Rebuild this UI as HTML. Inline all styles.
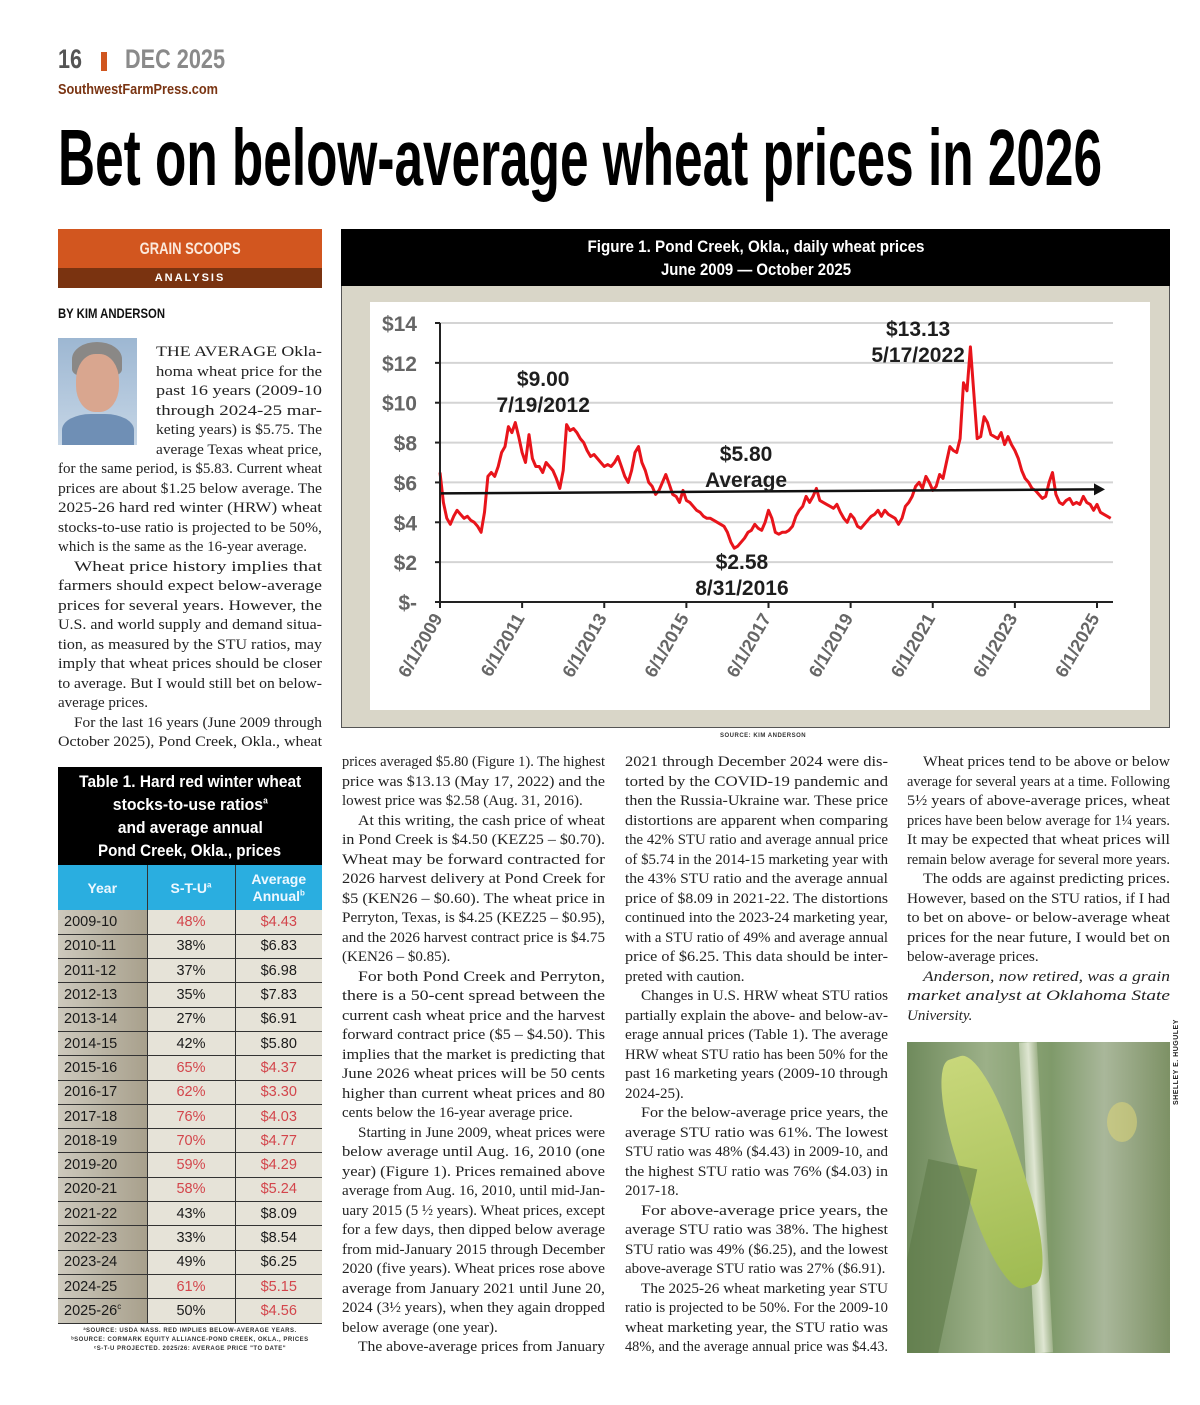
<!DOCTYPE html>
<html><head><meta charset="utf-8">
<style>
*{margin:0;padding:0;box-sizing:border-box}
body{width:1200px;height:1405px;background:#fff;position:relative;overflow:hidden;font-family:"Liberation Serif",serif;color:#222}
.a{position:absolute}
.fit{white-space:nowrap;display:inline-block;transform-origin:0 50%}
.col{position:absolute;font-size:15px;line-height:19.5px}
.col div{height:19.5px;white-space:nowrap;overflow:visible}
.col div span{display:inline-block;white-space:nowrap;transform-origin:0 50%}
.col div.i span{margin-left:16px}
.cond{font-family:"Liberation Sans",sans-serif;font-weight:bold}
table{border-collapse:collapse}
sup{line-height:0}
</style></head><body>

<div class="a cond" style="left:58px;top:44px;font-size:27px;color:#555;"><span class="fit" data-w="24">16</span></div>
<div class="a" style="left:101px;top:52px;width:6px;height:19px;background:#d0561f"></div>
<div class="a cond" style="left:125px;top:44px;font-size:27px;color:#8a8a8a;"><span class="fit" data-w="100">DEC 2025</span></div>
<div class="a cond" style="left:58px;top:81px;font-size:15px;color:#7a3412;"><span class="fit" data-w="160">SouthwestFarmPress.com</span></div>

<h1 class="a cond" style="left:58px;top:118px;font-size:80px;line-height:80px;color:#000;"><span class="fit" data-w="1044">Bet on below-average wheat prices in 2026</span></h1>

<div class="a" style="left:58px;top:229px;width:264px;height:39px;background:#d2561f;color:#fbe9dc;text-align:center;">
 <div class="cond" style="font-size:17px;line-height:39px;"><span class="fit" data-w="101">GRAIN SCOOPS</span></div></div>
<div class="a cond" style="left:58px;top:268px;width:264px;height:20px;background:#7a3310;color:#fff;text-align:center;font-size:11px;line-height:20px;letter-spacing:2px">ANALYSIS</div>
<div class="a cond" style="left:58px;top:305px;font-size:14px;color:#111"><span class="fit" data-w="107">BY KIM ANDERSON</span></div>

<div class="a" style="left:58px;top:338px;width:79px;height:107px;background:linear-gradient(#9db7d2,#c6d6e6);overflow:hidden">
 <div class="a" style="left:14px;top:4px;width:50px;height:34px;border-radius:50% 50% 20% 20%;background:#8a8886"></div>
 <div class="a" style="left:18px;top:16px;width:43px;height:58px;border-radius:45%;background:#d9a68f"></div>
 <div class="a" style="left:4px;top:76px;width:72px;height:40px;border-radius:40% 40% 0 0;background:#6f8fb5"></div>
</div>

<!-- column 1 -->
<div class="col" style="left:156px;top:343px;width:166px">
<div><span>THE AVERAGE Okla-</span></div>
<div><span>homa wheat price for the</span></div>
<div><span>past 16 years (2009-10</span></div>
<div><span>through 2024-25 mar-</span></div>
<div><span>keting years) is $5.75. The</span></div>
<div><span>average Texas wheat price,</span></div>
</div>
<div class="col" style="left:58px;top:460px;width:264px">
<div><span>for the same period, is $5.83. Current wheat</span></div>
<div><span>prices are about $1.25 below average. The</span></div>
<div><span>2025-26 hard red winter (HRW) wheat</span></div>
<div><span>stocks-to-use ratio is projected to be 50%,</span></div>
<div class="e"><span>which is the same as the 16-year average.</span></div>
<div class="i"><span>Wheat price history implies that</span></div>
<div><span>farmers should expect below-average</span></div>
<div><span>prices for several years. However, the</span></div>
<div><span>U.S. and world supply and demand situa-</span></div>
<div><span>tion, as measured by the STU ratios, may</span></div>
<div><span>imply that wheat prices should be closer</span></div>
<div><span>to average. But I would still bet on below-</span></div>
<div class="e"><span>average prices.</span></div>
<div class="i"><span>For the last 16 years (June 2009 through</span></div>
<div><span>October 2025), Pond Creek, Okla., wheat</span></div>
</div>

<div class="col" style="left:342px;top:753px;width:263px">
<div><span>prices averaged $5.80 (Figure 1). The highest</span></div>
<div><span>price was $13.13 (May 17, 2022) and the</span></div>
<div class="e"><span>lowest price was $2.58 (Aug. 31, 2016).</span></div>
<div class="i"><span>At this writing, the cash price of wheat</span></div>
<div><span>in Pond Creek is $4.50 (KEZ25 – $0.70).</span></div>
<div><span>Wheat may be forward contracted for</span></div>
<div><span>2026 harvest delivery at Pond Creek for</span></div>
<div><span>$5 (KEN26 – $0.60). The wheat price in</span></div>
<div><span>Perryton, Texas, is $4.25 (KEZ25 – $0.95),</span></div>
<div><span>and the 2026 harvest contract price is $4.75</span></div>
<div class="e"><span>(KEN26 – $0.85).</span></div>
<div class="i"><span>For both Pond Creek and Perryton,</span></div>
<div><span>there is a 50-cent spread between the</span></div>
<div><span>current cash wheat price and the harvest</span></div>
<div><span>forward contract price ($5 – $4.50). This</span></div>
<div><span>implies that the market is predicting that</span></div>
<div><span>June 2026 wheat prices will be 50 cents</span></div>
<div><span>higher than current wheat prices and 80</span></div>
<div class="e"><span>cents below the 16-year average price.</span></div>
<div class="i"><span>Starting in June 2009, wheat prices were</span></div>
<div><span>below average until Aug. 16, 2010 (one</span></div>
<div><span>year) (Figure 1). Prices remained above</span></div>
<div><span>average from Aug. 16, 2010, until mid-Jan-</span></div>
<div><span>uary 2015 (5 ½ years). Wheat prices, except</span></div>
<div><span>for a few days, then dipped below average</span></div>
<div><span>from mid-January 2015 through December</span></div>
<div><span>2020 (five years). Wheat prices rose above</span></div>
<div><span>average from January 2021 until June 20,</span></div>
<div><span>2024 (3½ years), when they again dropped</span></div>
<div class="e"><span>below average (one year).</span></div>
<div class="i"><span>The above-average prices from January</span></div>
</div>

<div class="col" style="left:625px;top:753px;width:263px">
<div><span>2021 through December 2024 were dis-</span></div>
<div><span>torted by the COVID-19 pandemic and</span></div>
<div><span>then the Russia-Ukraine war. These price</span></div>
<div><span>distortions are apparent when comparing</span></div>
<div><span>the 42% STU ratio and average annual price</span></div>
<div><span>of $5.74 in the 2014-15 marketing year with</span></div>
<div><span>the 43% STU ratio and the average annual</span></div>
<div><span>price of $8.09 in 2021-22. The distortions</span></div>
<div><span>continued into the 2023-24 marketing year,</span></div>
<div><span>with a STU ratio of 49% and average annual</span></div>
<div><span>price of $6.25. This data should be inter-</span></div>
<div class="e"><span>preted with caution.</span></div>
<div class="i"><span>Changes in U.S. HRW wheat STU ratios</span></div>
<div><span>partially explain the above- and below-av-</span></div>
<div><span>erage annual prices (Table 1). The average</span></div>
<div><span>HRW wheat STU ratio has been 50% for the</span></div>
<div><span>past 16 marketing years (2009-10 through</span></div>
<div class="e"><span>2024-25).</span></div>
<div class="i"><span>For the below-average price years, the</span></div>
<div><span>average STU ratio was 61%. The lowest</span></div>
<div><span>STU ratio was 48% ($4.43) in 2009-10, and</span></div>
<div><span>the highest STU ratio was 76% ($4.03) in</span></div>
<div class="e"><span>2017-18.</span></div>
<div class="i"><span>For above-average price years, the</span></div>
<div><span>average STU ratio was 38%. The highest</span></div>
<div><span>STU ratio was 49% ($6.25), and the lowest</span></div>
<div class="e"><span>above-average STU ratio was 27% ($6.91).</span></div>
<div class="i"><span>The 2025-26 wheat marketing year STU</span></div>
<div><span>ratio is projected to be 50%. For the 2009-10</span></div>
<div><span>wheat marketing year, the STU ratio was</span></div>
<div class="e"><span>48%, and the average annual price was $4.43.</span></div>
</div>

<div class="col" style="left:907px;top:753px;width:263px">
<div class="i"><span>Wheat prices tend to be above or below</span></div>
<div><span>average for several years at a time. Following</span></div>
<div><span>5½ years of above-average prices, wheat</span></div>
<div><span>prices have been below average for 1¼ years.</span></div>
<div><span>It may be expected that wheat prices will</span></div>
<div class="e"><span>remain below average for several more years.</span></div>
<div class="i"><span>The odds are against predicting prices.</span></div>
<div><span>However, based on the STU ratios, if I had</span></div>
<div><span>to bet on above- or below-average wheat</span></div>
<div><span>prices for the near future, I would bet on</span></div>
<div class="e"><span>below-average prices.</span></div>
<div class="i" style="font-style:italic"><span>Anderson, now retired, was a grain</span></div>
<div style="font-style:italic"><span>market analyst at Oklahoma State</span></div>
<div class="e" style="font-style:italic"><span>University.</span></div>
</div>

<div class="a" style="left:907px;top:1042px;width:263px;height:311px;overflow:hidden;background:linear-gradient(90deg,#6f8a5c 0%,#9cb088 30%,#7f9a6a 55%,#a9b79a 75%,#7d9165 100%)">
 <div class="a" style="left:120px;top:0;width:18px;height:311px;background:linear-gradient(90deg,#b9c9a8,#dfe6d2,#9fb28a);transform:rotate(-3deg)"></div>
 <div class="a" style="left:55px;top:10px;width:60px;height:240px;border-radius:40%;background:linear-gradient(#c8d77a,#9fbb52);transform:rotate(-18deg)"></div>
 <div class="a" style="left:0;top:120px;width:50px;height:200px;background:#5d7a48;opacity:.6;transform:rotate(12deg)"></div>
 <div class="a" style="left:200px;top:60px;width:30px;height:40px;border-radius:50%;background:#d8d27a;opacity:.6"></div>
</div>
<div class="a cond" style="left:1173px;top:1105px;font-size:7px;white-space:nowrap;transform:rotate(-90deg);transform-origin:0 0;color:#222;letter-spacing:.5px">SHELLEY E. HUGULEY</div>

<!-- Table -->
<div class="a" style="left:58px;top:767px;width:264px">
 <div class="cond" style="background:#000;color:#fff;text-align:center;height:98px;font-size:17px;line-height:23px;padding-top:3px">
  <div style="height:23px"><span class="fit" data-w="222">Table 1. Hard red winter wheat</span></div>
  <div style="height:23px"><span class="fit" data-w="155">stocks-to-use ratios<sup style="font-size:9px">a</sup></span></div>
  <div style="height:23px"><span class="fit" data-w="145">and average annual</span></div>
  <div style="height:23px"><span class="fit" data-w="183">Pond Creek, Okla., prices</span></div>
 </div>
 <table style="width:264px;font-family:'Liberation Sans',sans-serif;font-size:14.5px">
  <tr style="background:#2aaee0;color:#eef8ff;height:45px;font-weight:bold;font-size:14px">
   <td style="width:89px;text-align:center;border-right:1px solid #333">Year</td>
   <td style="width:88px;text-align:center;border-right:1px solid #333">S-T-U<sup style="font-size:8px">a</sup></td>
   <td style="text-align:center;line-height:17px">Average<br>Annual<sup style="font-size:8px">b</sup></td></tr>
 </table>
 <table id="tbody" style="width:264px;font-family:'Liberation Sans',sans-serif;font-size:14.5px;color:#1a1a1a"></table>
 <div class="cond" style="text-align:center;font-size:6px;line-height:9px;color:#333;margin-top:3px;letter-spacing:.5px">
  <div>ªSOURCE: USDA NASS. RED IMPLIES BELOW-AVERAGE YEARS.</div>
  <div>ᵇSOURCE: CORMARK EQUITY ALLIANCE-POND CREEK, OKLA., PRICES</div>
  <div>ᶜS-T-U PROJECTED. 2025/26: AVERAGE PRICE "TO DATE"</div>
 </div>
</div>

<!-- Chart -->
<svg class="a" style="left:341px;top:229px" width="829" height="499" viewBox="341 229 829 499" id="chart">
 <rect x="341.5" y="229.5" width="828" height="498" fill="#d9d6c8" stroke="#555"/>
 <rect x="341" y="229" width="829" height="57" fill="#000"/>
 <text x="756" y="252" text-anchor="middle" fill="#fff" font-family="Liberation Sans" font-weight="bold" font-size="17" textLength="337" lengthAdjust="spacingAndGlyphs">Figure 1. Pond Creek, Okla., daily wheat prices</text>
 <text x="756" y="275" text-anchor="middle" fill="#fff" font-family="Liberation Sans" font-weight="bold" font-size="17" textLength="190" lengthAdjust="spacingAndGlyphs">June 2009 — October 2025</text>
 <rect x="370" y="302" width="780" height="408" fill="#fff"/>
 <g id="grid"></g><g id="series"></g><g id="axes"></g><g id="notes"></g>
</svg>
<div class="a cond" style="left:720px;top:733px;font-size:6px;letter-spacing:.5px;color:#333">SOURCE: KIM ANDERSON</div>

<script>
// ---- table data
const tblYears=["2009-10","2010-11","2011-12","2012-13","2013-14","2014-15","2015-16","2016-17","2017-18","2018-19","2019-20","2020-21","2021-22","2022-23","2023-24","2024-25","2025-26"];
const tblStu=[48,38,37,35,27,42,65,62,76,70,59,58,43,33,49,61,50];
const tblPrice=[4.43,6.83,6.98,7.83,6.91,5.80,4.37,3.30,4.03,4.77,4.29,5.24,8.09,8.54,6.25,5.15,4.56];
const tblRedStu=[1,0,0,0,0,0,1,1,1,1,1,1,0,0,0,1,0];
const tblRedPrice=[1,0,0,0,0,0,1,1,1,1,1,1,0,0,0,1,1];

// ---- chart data (monthly, starting June 2009)
const priceStart=2009+5/12;
const prices=[
6.5,5.0,4.2,3.9,4.3,4.6,4.4,4.2,4.3,4.1,4.0,3.8,
3.5,4.5,6.3,6.5,6.3,6.8,7.5,7.8,8.8,8.5,9.0,8.3,
7.5,7.0,8.4,7.2,6.8,6.8,6.5,7.0,6.8,6.6,6.2,5.7,
6.6,8.9,8.6,8.7,8.5,8.2,8.0,7.6,7.3,7.4,7.2,7.0,
6.8,6.9,6.8,7.0,7.3,6.8,6.3,6.0,6.6,7.5,7.8,7.0,
6.6,6.0,5.8,5.4,5.6,6.0,6.4,5.9,5.4,5.3,5.0,5.6,
5.1,5.0,4.8,4.6,4.5,4.3,4.2,4.2,4.1,4.0,3.9,3.8,
3.5,3.0,2.7,2.8,3.0,3.2,3.5,3.6,3.9,3.7,3.6,4.0,
4.6,4.2,3.5,3.4,3.5,3.5,3.6,3.8,4.3,4.6,4.8,5.3,
5.0,5.3,5.7,5.1,5.0,4.9,4.8,4.7,4.9,4.5,4.2,4.0,
4.4,4.2,3.8,3.7,3.9,4.1,4.3,4.4,4.6,4.3,4.6,4.4,
4.3,4.2,3.9,4.2,4.8,5.0,5.3,5.8,6.0,5.7,6.3,6.0,
5.6,5.8,6.4,6.2,7.0,7.8,7.6,7.5,8.2,11.0,10.6,12.8,
10.5,8.2,8.3,9.3,9.0,8.4,8.3,8.2,8.5,7.9,8.3,7.9,
7.6,7.2,6.6,6.2,6.0,5.7,5.6,5.4,5.2,5.3,6.0,6.5,
5.4,5.0,4.9,5.1,5.2,4.9,5.0,4.9,5.3,5.0,4.9,4.6,
4.9,4.5,4.4,4.3,4.2];
const yTicks=[0,2,4,6,8,10,12,14];
const yTickLabels=["$-","$2","$4","$6","$8","$10","$12","$14"];
const xTickYears=[2009,2011,2013,2015,2017,2019,2021,2023,2025];
const avgLine=[5.45,5.65];
const notes=[["$9.00","7/19/2012",2011.93,10.85],["$13.13","5/17/2022",2021.06,13.35],["$5.80","Average",2016.87,7.08],["$2.58","8/31/2016",2016.77,1.66]];

const NS="http://www.w3.org/2000/svg";
const X0=440,X1=1097,Y0=602,Y1=323;
function xs(t){return X0+(t-priceStart)*(X1-X0)/16;}
function ys(v){return Y0-v*(Y0-Y1)/14;}
function mk(tag,at,parent){const e=document.createElementNS(NS,tag);for(const k in at)e.setAttribute(k,at[k]);parent.appendChild(e);return e;}

const grid=document.getElementById('grid'),axes=document.getElementById('axes'),ser=document.getElementById('series'),nt=document.getElementById('notes');
yTicks.forEach((v,i)=>{
 if(v>0){const g=mk('line',{x1:X0,x2:1113,y1:ys(v),y2:ys(v),stroke:'#d4d4d4','stroke-width':2},grid);
 
 }
 mk('line',{x1:X0-5,x2:X0,y1:ys(v),y2:ys(v),stroke:'#222','stroke-width':2},axes);
 const t=mk('text',{x:417,y:ys(v)+8,'text-anchor':'end','font-family':'Liberation Sans','font-weight':'bold','font-size':21,fill:'#666'},axes);
 t.textContent=yTickLabels[i];
 
 
});
mk('line',{x1:X0,x2:X0,y1:Y1,y2:Y0,stroke:'#222','stroke-width':2},axes);
mk('line',{x1:X0,x2:1113,y1:Y0,y2:Y0,stroke:'#222','stroke-width':2},axes);
xTickYears.forEach(yr=>{
 const x=xs(yr+5/12);
 mk('line',{x1:x,x2:x,y1:Y0,y2:Y0+6,stroke:'#222','stroke-width':2},axes);
 const t=mk('text',{x:x+3,y:Y0+16,'text-anchor':'end','font-family':'Liberation Sans','font-weight':'bold','font-size':18,fill:'#666',transform:`rotate(-60 ${x+3} ${Y0+16})`},axes);
 t.textContent='6/1/'+yr;
 
 
});
let d='';
prices.forEach((v,i)=>{d+=(i?'L':'M')+xs(priceStart+i/12).toFixed(1)+' '+ys(v).toFixed(1);});
const p=mk('path',{d:d,fill:'none',stroke:'#e8141b','stroke-width':3,'stroke-linejoin':'round'},ser);


const ax2=1105;
const al=mk('line',{x1:X0,y1:ys(avgLine[0]),x2:ax2-8,y2:ys(avgLine[1]),stroke:'#111','stroke-width':2.5},ser);


mk('path',{d:`M${ax2} ${ys(avgLine[1])} l-11 -6 l0 12 z`,fill:'#111'},ser);
notes.forEach(n=>{
 const x=xs(n[2]),y=ys(n[3]);
 [n[0],n[1]].forEach((s,k)=>{
  const t=mk('text',{x:x,y:y+k*26,'text-anchor':'middle','font-family':'Liberation Sans','font-weight':'bold','font-size':21,fill:'#1e1e1e'},nt);
  t.textContent=s;
  
  
 });
});

// table body
const tb=document.getElementById('tbody');
tblYears.forEach((yr,i)=>{
 const tr=document.createElement('tr');
 
 
 tr.style.height='24.3px';
 tr.innerHTML=`<td style="width:89px;padding-left:6px;background:linear-gradient(90deg,#cdc9bd,#a8a08c);border-right:1px solid #333;border-bottom:1px solid #333">${yr}${i==16?'<sup style="font-size:8px">c</sup>':''}</td><td style="width:88px;text-align:center;background:#e6e3d8;border-right:1px solid #333;border-bottom:1px solid #333;color:${tblRedStu[i]?'#d3454b':'#1a1a1a'}">${tblStu[i]}%</td><td style="text-align:center;background:#e6e3d8;border-bottom:1px solid #333;color:${tblRedPrice[i]?'#d3454b':'#1a1a1a'}">$${tblPrice[i].toFixed(2)}</td>`;
 tb.appendChild(tr);
});

// fit helpers
document.querySelectorAll('.fit[data-w]').forEach(s=>{const w=s.getBoundingClientRect().width;const tw=+s.dataset.w;s.style.transform=`scaleX(${tw/w})`;s.style.width=w+'px';});
document.querySelectorAll('.fit[data-w]').forEach(s=>{const p=s.parentElement;if(getComputedStyle(p).textAlign==='center'){s.style.transformOrigin='50% 50%';}});
document.querySelectorAll('.col').forEach(c=>{
 const W=c.getBoundingClientRect().width;
 c.querySelectorAll('div').forEach(l=>{
  const s=l.querySelector('span');
  const ind=l.classList.contains('i')?16:0;
  const tw=W-ind;
  const w=s.getBoundingClientRect().width;
  if(l.classList.contains('e')){ if(w>tw) s.style.transform=`scaleX(${tw/w})`; }
  else s.style.transform=`scaleX(${tw/w})`;
 });
});
</script>
</body></html>
